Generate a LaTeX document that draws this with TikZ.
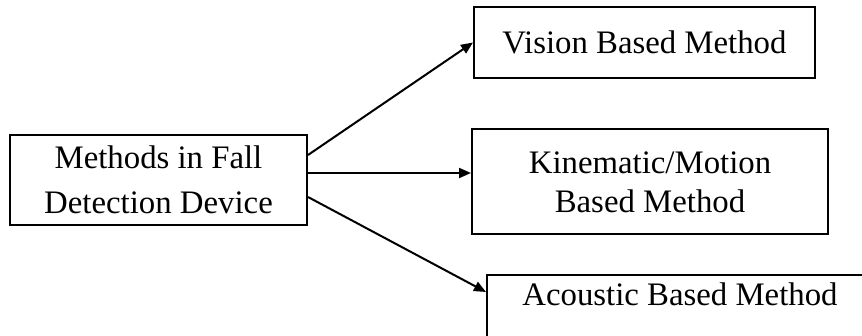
\documentclass[tikz,border=0pt]{standalone}
\usepackage{fontspec}
\setmainfont{Liberation Serif}
\usetikzlibrary{arrows.meta}
\tikzset{
  methodbox/.style={draw, line width=1pt, inner sep=0pt, align=center,
    font=\fontsize{16.4}{22.5}\selectfont},
  branch/.style={line width=1pt, -{Triangle[length=6pt,width=5pt]}}
}
\begin{document}
\begin{tikzpicture}[x=0.5pt,y=-0.5pt]
  \clip (0,0) rectangle (862,336);
  % the device and its three kinds of method
  \node[methodbox, minimum width=148.5pt, minimum height=45pt] (device) at (158.5,180) {Methods in Fall\\Detection Device};
  \node[methodbox, minimum width=170.5pt, minimum height=35.5pt] (vision) at (644.5,42.5) {Vision Based Method};
  \node[methodbox, minimum width=178pt, minimum height=52.5pt, font=\fontsize{16.4}{19.5}\selectfont] (kinematic) at (650,182) {Kinematic/Motion\\Based Method};
  \node[methodbox, minimum width=193pt, text height=15.5pt, text depth=22pt, anchor=base] (acoustic) at (680,306) {Acoustic Based Method};

  % arrows from the device
  \draw[branch] ([yshift=12.5pt]device.east) -- (vision.west);
  \draw[branch] ([yshift=3.5pt]device.east) -- ([yshift=4.5pt]kinematic.west);
  \draw[branch] ([yshift=-8.5pt]device.east) -- ([yshift=10.25pt]acoustic.west);
\end{tikzpicture}
\end{document}
